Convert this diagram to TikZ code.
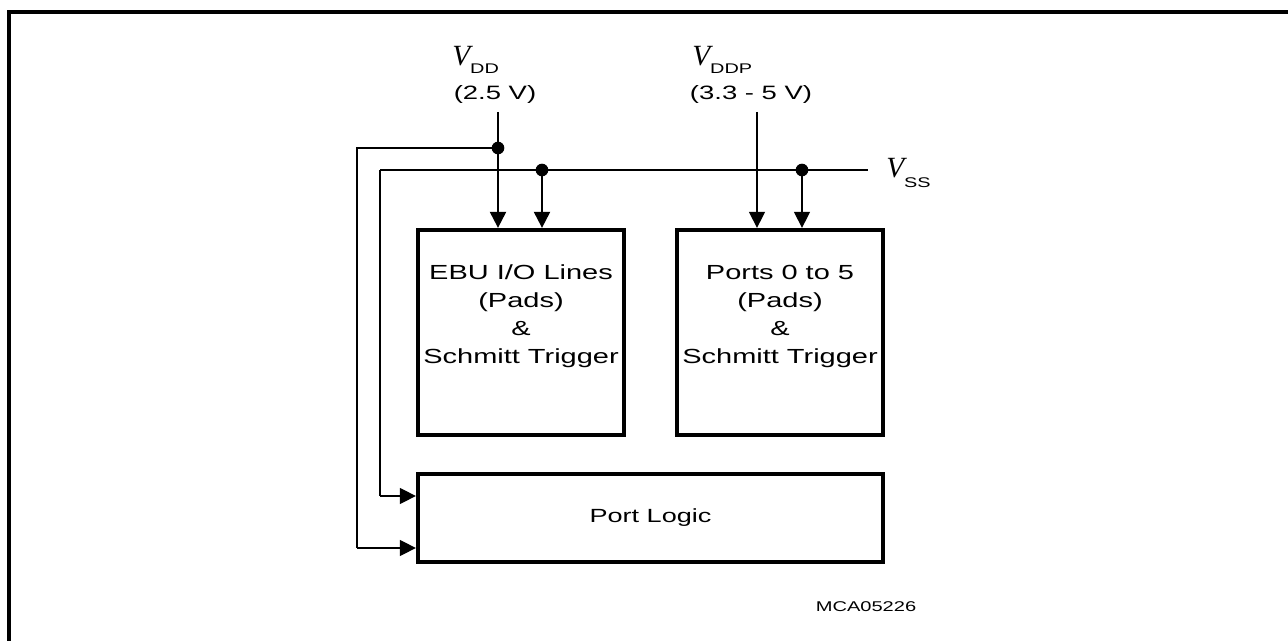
\documentclass[tikz,border=0pt]{standalone}
\usepackage{fontspec}
\setmainfont{Liberation Sans}[FakeStretch=1.42]
\newfontfamily\tms{Liberation Serif}
\usetikzlibrary{arrows.meta}
\begin{document}
\begin{tikzpicture}[x=0.75pt,y=-0.75pt,
  box/.style={draw,line width=3.2pt,inner sep=0pt},
  boxtext/.style={align=center,inner sep=0pt,font=\fontsize{15.3}{21}\selectfont},
  wire/.style={line width=1pt},
  thick wire/.style={line width=1.6pt},
  arr/.style={-{Triangle[length=12pt,width=12pt]}},
  dot/.style={circle,fill=black,inner sep=0pt,minimum size=9.5pt},
  lbl/.style={inner sep=0pt,font=\fontsize{14.5}{17}\selectfont},
  vname/.style={inner sep=0pt,anchor=base west,font=\tms\itshape\fontsize{22}{24}\selectfont}
]
\useasboundingbox (0,0) rectangle (1288,641);
\begin{scope}
\clip (0,0) rectangle (1288,641);
\draw[line width=2.3pt] (9,700) -- (9,12) -- (1320,12);
\end{scope}

% boxes
\node[box,minimum width=154.5pt,minimum height=153.75pt] (ebu) at (521,332.5) {};
\node[boxtext] (ebutext) at (521,316)
  {EBU I/O Lines\\(Pads)\\\&\\Schmitt Trigger};
\node[box,minimum width=154.5pt,minimum height=153.75pt] (ports) at (780,332.5) {};
\node[boxtext] (portstext) at (780,316)
  {Ports 0 to 5\\(Pads)\\\&\\Schmitt Trigger};
\node[box,minimum width=348.75pt,minimum height=66pt,font=\fontsize{14.3}{21}\selectfont] (pl) at (650.5,518)
  {Port Logic};

% labels
\node[vname] (vdd) at (452,66) {V\raisebox{-5.5pt}{\rmfamily\upshape\fontsize{10.5}{12}\selectfont DD}};
\node[lbl,anchor=base] (vddv) at (495,100) {(2.5 V)};
\node[vname] (vddp) at (692,66) {V\raisebox{-5.5pt}{\rmfamily\upshape\fontsize{10.5}{12}\selectfont DDP}};
\node[lbl,anchor=base] (vddpv) at (751,100) {(3.3 - 5 V)};
\node[vname] (vss) at (886,178) {V\raisebox{-7.5pt}{\rmfamily\upshape\fontsize{10.5}{12}\selectfont SS}};
\node[inner sep=0pt,anchor=base,font=\fontsize{10.6}{13}\selectfont] (id) at (866,611) {MCA05226};

% junction coordinates
\coordinate (vddtop) at (498,112);
\coordinate (vddptop) at (757,112);
\coordinate (j1) at (498,148);
\coordinate (l1) at (357,148);
\coordinate (l1b) at (357,548);
\coordinate (s0) at (380,170);
\coordinate (s0b) at (380,496);
\coordinate (j2) at (542,170);
\coordinate (j3) at (802,170);
\coordinate (send) at (868,170);

% VDD
\draw[thick wire] (vddtop) -- (j1);
\draw[thick wire,arr] (j1) -- (j1 |- ebu.north);
\draw[wire] (j1) -- (l1) -- (l1b);
\draw[wire,arr] (l1b) -- (l1b -| pl.west);
% VSS
\draw[thick wire] (s0) -- (send);
\draw[wire] (s0) -- (s0b);
\draw[wire,arr] (s0b) -- (s0b -| pl.west);
\draw[thick wire,arr] (j2) -- (j2 |- ebu.north);
\draw[wire,arr] (j3) -- (j3 |- ports.north);
% VDDP
\draw[wire,arr] (vddptop) -- (vddptop |- ports.north);

\node[dot] at (j1) {};
\node[dot] at (j2) {};
\node[dot] at (j3) {};
\end{tikzpicture}
\end{document}
